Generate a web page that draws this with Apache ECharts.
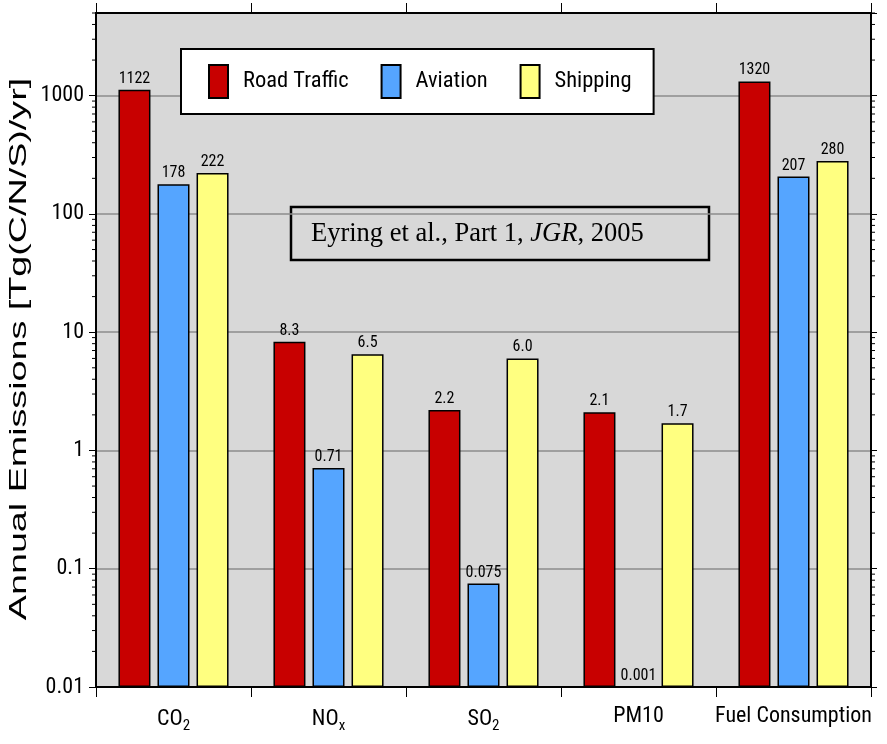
<!DOCTYPE html>
<html>
<head>
<meta charset="utf-8">
<script src="https://cdn.jsdelivr.net/npm/echarts@6/dist/echarts.min.js"></script>
<style>
  html, body { margin: 0; padding: 0; background: #ffffff; }
  #chart { width: 887px; height: 744px; }
</style>
</head>
<body>
<div id="chart"></div>
<script>
// Annual emissions by source (Tg C/N/S per year), log scale
const categories = ['CO{s|2}', 'NO{s|x}', 'SO{s|2}', 'PM10', 'Fuel Consumption'];
const roadTraffic = [1122, 8.3, 2.2, 2.1, 1320];
const aviation = [178, 0.71, 0.075, 0.001, 207];
const shipping = [222, 6.5, 6.0, 1.7, 280];
const seriesNames = ['Road Traffic', 'Aviation', 'Shipping'];
const seriesColors = ['#c80000', '#55a5ff', '#ffff80'];
const yTickLabels = ['0.01', '0.1', '1', '10', '100', '1000'];
const yMin = 0.01;
const yMax = 5000;

// Minor ticks at 2..9 times each decade
const minorSteps = [2, 3, 4, 5, 6, 7, 8, 9];
const decades = [0.01, 0.1, 1, 10, 100, 1000];
const minorTicks = [];
decades.forEach(function (d) {
  minorSteps.forEach(function (m) {
    const v = +(d * m).toPrecision(6);
    if (v <= yMax) minorTicks.push([0, v]);
  });
});

const NARROW = '"Roboto Condensed", "DejaVu Sans Condensed", sans-serif';

const chart = echarts.init(document.getElementById('chart'), null, { renderer: 'canvas' });

function barSeries(name, values, color) {
  // values below the axis floor keep a zero-height bar (no border) so their label still shows
  const data = values.map(function (v) {
    return v < yMin ? { value: v, itemStyle: { borderWidth: 0 } } : v;
  });
  return {
    name: name,
    type: 'bar',
    data: data,
    barWidth: 32,
    barGap: '22%',
    itemStyle: { color: color, borderColor: '#000', borderWidth: 1.5 },
    label: {
      show: true,
      position: 'top',
      distance: 3,
      fontFamily: NARROW,
      fontSize: 16,
      color: '#000',
      formatter: function (p) { return p.value === 6 ? '6.0' : String(p.value); }
    }
  };
}

const option = {
  backgroundColor: '#ffffff',
  animation: false,
  grid: { left: 96, right: 16, top: 13, bottom: 57, show: true, backgroundColor: '#d8d8d8', borderColor: '#000', borderWidth: 2 },
  legend: {
    data: seriesNames,
    left: 181,
    top: 49,
    orient: 'horizontal',
    itemWidth: 19,
    itemHeight: 33,
    itemGap: 32,
    padding: [15, 22, 15, 27],
    backgroundColor: '#ffffff',
    borderColor: '#000',
    borderWidth: 2,
    icon: 'rect',
    textStyle: { fontFamily: NARROW, fontSize: 22.5, color: '#000', padding: [0, 0, 0, 10] }
  },
  xAxis: [
    {
      type: 'category',
      data: categories,
      position: 'bottom',
      axisLine: { show: true, lineStyle: { color: '#000', width: 2 } },
      axisTick: { show: true, length: 10, lineStyle: { color: '#000', width: 1 } },
      axisLabel: {
        interval: 0,
        margin: 18,
        fontFamily: NARROW,
        fontSize: 22,
        color: '#000',
        rich: {
          s: { fontFamily: NARROW, fontSize: 15, color: '#000', padding: [14, 0, 0, 0] }
        }
      },
      splitLine: { show: false }
    },
    {
      type: 'category',
      data: categories,
      position: 'top',
      axisLine: { show: true, lineStyle: { color: '#000', width: 2 } },
      axisTick: { show: true, length: 10, lineStyle: { color: '#000', width: 1 } },
      axisLabel: { show: false },
      splitLine: { show: false }
    }
  ],
  yAxis: [
    {
      type: 'log',
      logBase: 10,
      min: yMin,
      max: yMax,
      startValue: yMin,
      position: 'left',
      axisLine: { show: true, lineStyle: { color: '#000', width: 2 } },
      axisTick: { show: true, length: 7, lineStyle: { color: '#000', width: 1 } },
      axisLabel: {
        showMaxLabel: false,
        margin: 12,
        fontFamily: NARROW,
        fontSize: 22,
        color: '#000',
        formatter: function (v) {
          const e = Math.round(Math.log10(v)) + 2;
          return yTickLabels[e] !== undefined ? yTickLabels[e] : '';
        }
      },
      splitLine: { show: true, lineStyle: { color: '#8c8c8c', width: 1.5 } }
    },
    {
      type: 'log',
      logBase: 10,
      min: yMin,
      max: yMax,
      position: 'right',
      axisLine: { show: true, lineStyle: { color: '#000', width: 2 } },
      axisTick: { show: true, length: 6, lineStyle: { color: '#000', width: 1 } },
      axisLabel: { show: false },
      splitLine: { show: false }
    }
  ],
  series: [
    barSeries(seriesNames[0], roadTraffic, seriesColors[0]),
    barSeries(seriesNames[1], aviation, seriesColors[1]),
    barSeries(seriesNames[2], shipping, seriesColors[2]),
    {
      // minor log ticks on both vertical axes
      type: 'custom',
      name: 'minorTicks',
      data: minorTicks,
      silent: true,
      clip: false,
      renderItem: function (params, api) {
        const pt = api.coord([0, api.value(1)]);
        const cs = params.coordSys;
        const y = pt[1];
        return {
          type: 'group',
          children: [
            { type: 'line', shape: { x1: cs.x - 4, y1: y, x2: cs.x, y2: y }, style: { stroke: '#000', lineWidth: 1 } },
            { type: 'line', shape: { x1: cs.x + cs.width, y1: y, x2: cs.x + cs.width + 4, y2: y }, style: { stroke: '#000', lineWidth: 1 } }
          ]
        };
      }
    }
  ],
  graphic: [
    {
      type: 'text',
      x: 19,
      y: 349,
      rotation: Math.PI / 2,
      scaleX: 1.57,
      style: {
        text: 'Annual Emissions [Tg(C/N/S)/yr]',
        fontFamily: '"Liberation Sans", Arial, sans-serif',
        fontSize: 24,
        fill: '#000',
        align: 'center',
        verticalAlign: 'middle'
      }
    },
    {
      type: 'rect',
      shape: { x: 291, y: 207, width: 418, height: 53 },
      style: { fill: 'transparent', stroke: '#000', lineWidth: 2.5 }
    },
    {
      type: 'text',
      x: 311,
      y: 234,
      style: {
        text: 'Eyring et al., Part 1, {i|JGR}, 2005',
        fontFamily: '"Liberation Serif", "Times New Roman", serif',
        fontSize: 26.5,
        fill: '#000',
        align: 'left',
        verticalAlign: 'middle',
        rich: {
          i: { fontFamily: '"Liberation Serif", "Times New Roman", serif', fontSize: 26.5, fontStyle: 'italic', fill: '#000' }
        }
      }
    }
  ]
};

chart.setOption(option);
</script>
</body>
</html>
